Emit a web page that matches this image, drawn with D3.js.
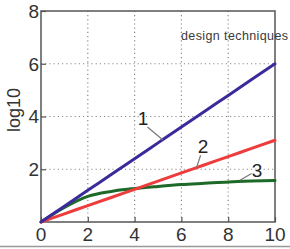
<!DOCTYPE html>
<html>
<head>
<meta charset="utf-8">
<script src="https://cdn.jsdelivr.net/npm/d3@7"></script>
<style>
  body { margin: 0; background: #fff; }
  svg { display: block; }
</style>
</head>
<body>
<div id="chart"></div>
<script>
// values
const xs = [0, 1, 2, 3, 4, 5, 6, 7, 8, 9, 10];
const line1 = [0, 0.6, 1.2, 1.8, 2.4, 3.0, 3.6, 4.2, 4.8, 5.4, 6.0];
const line2 = [0, 0.31, 0.62, 0.93, 1.24, 1.55, 1.86, 2.17, 2.48, 2.79, 3.1];
const line3 = [0, 0.55, 0.97, 1.16, 1.27, 1.35, 1.42, 1.47, 1.52, 1.55, 1.57];
const xTicks = [0, 2, 4, 6, 8, 10];
const yTicks = [2, 4, 6, 8];

const width = 290, height = 249;
const margin = {left: 41, right: 15, top: 11, bottom: 27};

const svg = d3.select("#chart")
    .append("svg")
    .attr("width", width)
    .attr("height", height);

const x = d3.scaleLinear().domain([0, 10]).range([margin.left, width - margin.right]);
const y = d3.scaleLinear().domain([0, 8]).range([height - margin.bottom, margin.top]);

// dotted grid
svg.append("g")
    .selectAll("line")
    .data(xTicks.slice(1, -1))
    .enter().append("line")
        .attr("x1", d => x(d)).attr("x2", d => x(d))
        .attr("y1", y(0)).attr("y2", y(8))
        .style("stroke", "#8a8a8a")
        .style("stroke-width", 1.2)
        .style("stroke-dasharray", "1.2,3");

svg.append("g")
    .selectAll("line")
    .data(yTicks.slice(0, -1))
    .enter().append("line")
        .attr("x1", x(0)).attr("x2", x(10))
        .attr("y1", d => y(d)).attr("y2", d => y(d))
        .style("stroke", "#8a8a8a")
        .style("stroke-width", 1.2)
        .style("stroke-dasharray", "1.2,3");

// frame
svg.append("rect")
    .attr("x", x(0)).attr("y", y(8))
    .attr("width", x(10) - x(0)).attr("height", y(0) - y(8))
    .style("fill", "none")
    .style("stroke", "#555")
    .style("stroke-width", 1.5);

// axes, ticks pointing inward
const xAxis = svg.append("g")
    .attr("transform", `translate(0,${y(0)})`)
    .call(d3.axisTop(x).tickValues(xTicks).tickSize(5).tickFormat(""));
const yAxis = svg.append("g")
    .attr("transform", `translate(${x(0)},0)`)
    .call(d3.axisRight(y).tickValues(yTicks).tickSize(5).tickFormat(""));
[xAxis, yAxis].forEach(a => {
    a.select(".domain").remove();
    a.selectAll("line").style("stroke", "#555").style("stroke-width", 1.2);
});

svg.append("g")
    .selectAll("text")
    .data(xTicks)
    .enter().append("text")
        .attr("x", d => x(d))
        .attr("y", y(0) + 19)
        .attr("text-anchor", "middle")
        .style("font-family", "Liberation Sans, Arial, sans-serif")
        .style("font-size", "19px")
        .style("fill", "#333")
        .text(d => d);

svg.append("g")
    .selectAll("text")
    .data(yTicks)
    .enter().append("text")
        .attr("x", x(0) - 2)
        .attr("y", d => y(d))
        .attr("dy", "0.36em")
        .attr("text-anchor", "end")
        .style("font-family", "Liberation Sans, Arial, sans-serif")
        .style("font-size", "19px")
        .style("fill", "#333")
        .text(d => d);

svg.append("text")
    .attr("transform", `translate(20,110) rotate(-90)`)
    .attr("text-anchor", "middle")
    .style("font-family", "Liberation Sans, Arial, sans-serif")
    .style("font-size", "18px")
    .style("fill", "#333")
    .text("log10");

// curves
const series = [
    {name: "3", values: line3, color: "#1d6a28"},
    {name: "2", values: line2, color: "#ee3b3b"},
    {name: "1", values: line1, color: "#3a2b9c"}
];
const lineGen = d3.line()
    .x((d, i) => x(xs[i]))
    .y(d => y(d))
    .curve(d3.curveMonotoneX);

svg.append("g")
    .selectAll("path")
    .data(series)
    .enter().append("path")
        .attr("d", d => lineGen(d.values))
        .style("fill", "none")
        .style("stroke", d => d.color)
        .style("stroke-width", 3)
        .style("stroke-linecap", "round");

// curve labels with leader lines
const labels = [
    {text: "1", lx: 4.55, ly: 3.6, px: 5.2, py: 3.12, tx: 4.36, ty: 3.67},
    {text: "2", lx: 6.82, ly: 2.53, px: 6.65, py: 2.06, tx: 6.92, ty: 2.61},
    {text: "3", lx: 9.0, ly: 1.84, px: 8.5, py: 1.58, tx: 9.23, ty: 1.7}
];
svg.append("g")
    .selectAll("line")
    .data(labels)
    .enter().append("line")
        .attr("x1", d => x(d.lx)).attr("y1", d => y(d.ly))
        .attr("x2", d => x(d.px)).attr("y2", d => y(d.py))
        .style("stroke", "#777")
        .style("stroke-width", 1.2);

svg.append("g")
    .selectAll("text")
    .data(labels)
    .enter().append("text")
        .attr("x", d => x(d.tx))
        .attr("y", d => y(d.ty))
        .attr("text-anchor", "middle")
        .style("font-family", "Liberation Sans, Arial, sans-serif")
        .style("font-size", "19px")
        .style("fill", "#222")
        .text(d => d.text);

svg.append("text")
    .attr("x", 181)
    .attr("y", 40)
    .attr("textLength", 107)
    .style("font-family", "Liberation Sans, Arial, sans-serif")
    .style("font-size", "12.5px")
    .style("fill", "#3a3a3a")
    .text("design techniques");

// scan edge at the bottom
svg.append("line")
    .attr("x1", 0).attr("x2", width)
    .attr("y1", 246.5).attr("y2", 246.5)
    .style("stroke", "#999")
    .style("stroke-width", 1.5);
</script>
</body>
</html>
